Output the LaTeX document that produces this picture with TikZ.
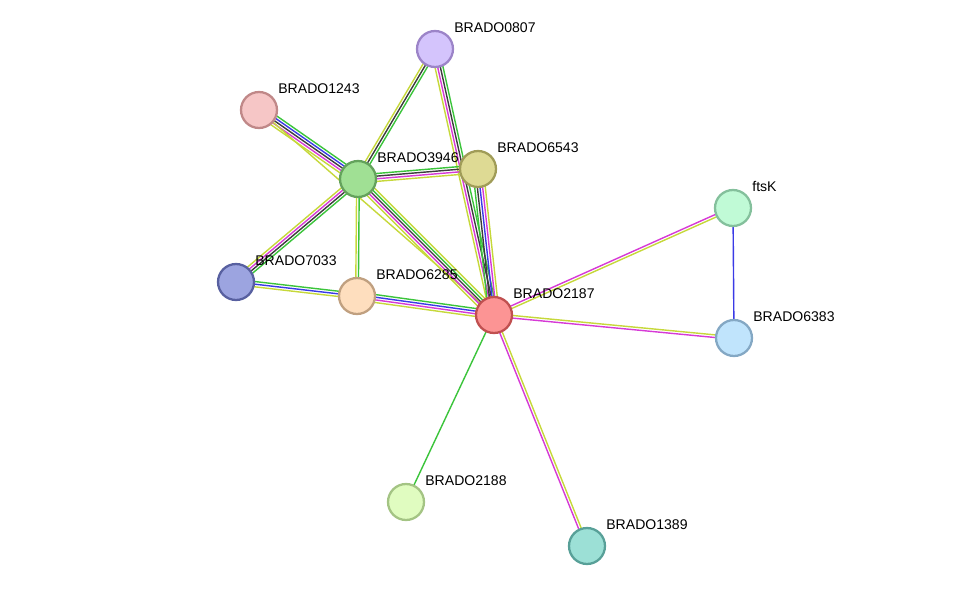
\documentclass[tikz,border=0pt]{standalone}
\usepackage{fontspec}
\setmainfont{Liberation Sans}
\usetikzlibrary{calc}
\definecolor{sgreen}{HTML}{3BC43B}
\definecolor{syellow}{HTML}{C6D83A}
\definecolor{smagenta}{HTML}{D63AD6}
\definecolor{sblack}{HTML}{3C3C3C}
\definecolor{sblue}{HTML}{3A3AE6}

\tikzset{
  prot/.style={circle,minimum size=0.72cm,inner sep=0pt,line width=1.3pt},
  plabel/.style={anchor=base west,font=\fontsize{8}{9}\selectfont,inner sep=0pt},
  link/.style={line width=0.8pt},
}

% multi-coloured link: offsets in pt and colours
\newcommand{\plink}[3]{%
  \foreach \o/\c in {#3}
    \draw[link,\c] ($(#1)!\o pt!90:(#2)$) -- ($(#2)!\o pt!-90:(#1)$);
}

\begin{document}
\begin{tikzpicture}[x=0.02cm,y=-0.02cm]
  \useasboundingbox (0,0) rectangle (975,592);

  % ---- Positions --------------------------------------------
  \coordinate (p0807) at (435,49);
  \coordinate (p1243) at (259,110);
  \coordinate (p3946) at (358,179);
  \coordinate (p6543) at (478,169);
  \coordinate (pftsK) at (733,208);
  \coordinate (p7033) at (236,282);
  \coordinate (p6285) at (357,296);
  \coordinate (p2187) at (494,315);
  \coordinate (p6383) at (734,338);
  \coordinate (p2188) at (406,502);
  \coordinate (p1389) at (587,546);

  % ---- Links ------------------------------------------------
  \plink{p0807}{p3946}{-1.5/syellow,0/sblack,1.5/sgreen}
  \plink{p0807}{p2187}{-2.25/syellow,-0.75/smagenta,0.75/sblack,2.25/sgreen}
  \plink{p1243}{p3946}{-3/syellow,-1.5/smagenta,0/sblack,1.5/sblue,3/sgreen}
  \plink{p1243}{p2187}{0/syellow}
  \plink{p3946}{p6543}{-2.25/syellow,-0.75/smagenta,0.75/sblack,2.25/sgreen}
  \plink{p3946}{p7033}{-2.25/syellow,-0.75/smagenta,0.75/sblack,2.25/sgreen}
  \plink{p3946}{p6285}{-0.75/syellow,0.75/sgreen}
  \plink{p3946}{p2187}{-3/syellow,-1.5/smagenta,0/sblack,1.5/sgreen,3/syellow}
  \plink{p6543}{p2187}{-3/sgreen,-1.5/sblack,0/sblue,1.5/smagenta,3/syellow}
  \plink{p7033}{p6285}{-1.5/syellow,0/sblue,1.5/sgreen}
  \plink{p6285}{p2187}{-2.25/syellow,-0.75/smagenta,0.75/sblue,2.25/sgreen}
  \plink{p2187}{pftsK}{-0.75/syellow,0.75/smagenta}
  \plink{p2187}{p6383}{-0.75/smagenta,0.75/syellow}
  \plink{pftsK}{p6383}{0/sblue}
  \plink{p2187}{p2188}{0/sgreen}
  \plink{p2187}{p1389}{-0.75/smagenta,0.75/syellow}

  % ---- Proteins ---------------------------------------------
  \foreach \n/\lab/\f/\d in {
      0807/BRADO0807/D4C4FC/9C84C8,
      1243/BRADO1243/F6C6C6/C08888,
      3946/BRADO3946/A0E094/64A25C,
      6543/BRADO6543/DEDA94/A09C58,
      ftsK/ftsK/C0FAD6/84C09C,
      7033/BRADO7033/9CA4E0/5860A0,
      6285/BRADO6285/FEDEBE/C0A080,
      2187/BRADO2187/FC9494/C05050,
      6383/BRADO6383/C0E4FC/84A8C4,
      2188/BRADO2188/E0FCC0/A4C484,
      1389/BRADO1389/9CE0D6/58A098} {
    \definecolor{nf}{HTML}{\f}
    \definecolor{nd}{HTML}{\d}
    \node[prot,fill=nf,draw=nd] (n\n) at (p\n) {};
    \node[plabel] (l\n) at ($(p\n)+(19,-17)$) {\lab};
  }
\end{tikzpicture}
\end{document}
